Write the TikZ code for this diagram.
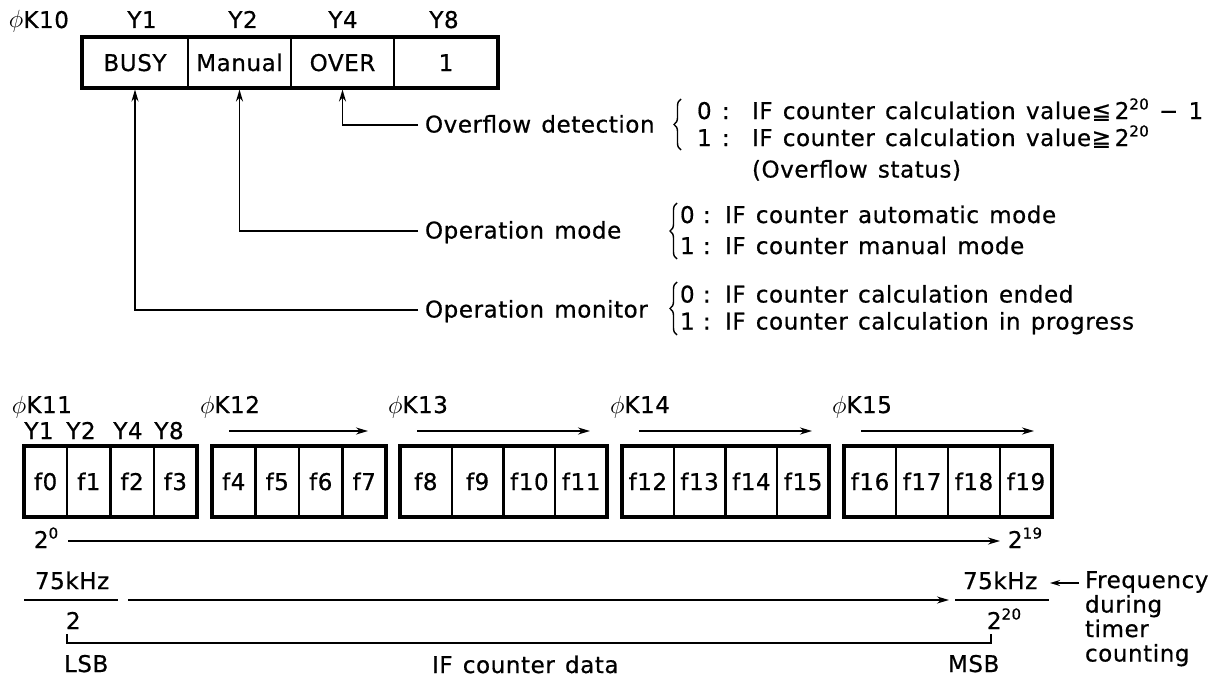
\documentclass[tikz,border=0pt]{standalone}
\usepackage{fontspec}
\setmainfont{DejaVu Sans}[LetterSpace=2.5,WordSpace=1.3,FakeBold=0.6]
\usetikzlibrary{arrows.meta,decorations.pathreplacing}
\newcommand\supx[1]{\raisebox{9.5pt}{\fontsize{15}{15}\selectfont #1}}
\newcommand\phik{{\fontsize{28}{28}\selectfont$\phi$}}
\begin{document}
\begin{tikzpicture}[x=1pt,y=-1pt,
  font=\fontsize{23}{26}\selectfont,
  every node/.style={inner sep=0pt,outer sep=0pt},
  txt/.style={anchor=base west},
  ctr/.style={anchor=base},
  cell/.style={draw,line width=2.4pt,minimum height=51pt,text height=17pt,text depth=0pt},
  bcell/.style={draw,line width=2.4pt,minimum height=71pt,text height=17pt,text depth=0pt},
  frame/.style={draw,line width=3.6pt},
  conn/.style={line width=1.9pt},
  arr/.style={conn,-{Stealth[length=12pt,width=7pt]}},
  thinl/.style={line width=1.6pt},
  brc/.style={line width=1.4pt,decorate,decoration={brace,amplitude=7pt}}
]
\fill[white] (0,0) rectangle (1221,677);
\useasboundingbox (0,0) rectangle (1221,677);

% ---------- top register ----------
\node[txt] (k10) at (9,28) {\phik K10};
\node[ctr] (ty1) at (142,28) {Y1};
\node[ctr] (ty2) at (243,28) {Y2};
\node[ctr] (ty4) at (343,28) {Y4};
\node[ctr] (ty8) at (444,28) {Y8};
\node[cell,minimum width=106pt] (busy) at (135,62.5) {BUSY};
\node[cell,minimum width=103pt] (manual) at (239.5,62.5) {Manual};
\node[cell,minimum width=103pt] (over) at (342.5,62.5) {OVER};
\node[cell,minimum width=104pt] (one) at (446,62.5) {1};
\draw[frame] (busy.north west) rectangle (one.south east);

% connectors
\coordinate (ovend) at (418,125);
\coordinate (moend) at (418,231);
\coordinate (mnend) at (418,310);
\draw[arr,shorten >=1.5pt] (ovend) -| (over.south);
\draw[arr,shorten >=1.5pt] (moend) -| (manual.south);
\draw[arr,shorten >=1.5pt] (mnend) -| (busy.south);

% overflow detection
\node[txt] (ovl) at (425,132.5) {Overflow detection};
\draw[brc] (681,150) -- (681,99);
\node[txt] (ov0n) at (697,119) {0};
\node[txt] (ov0c) at (722,119) {:};
\node[txt] (ov0t) at (752,119) {IF counter calculation value≦\,2\supx{20} − 1};
\node[txt] (ov1n) at (697,146) {1};
\node[txt] (ov1c) at (722,146) {:};
\node[txt] (ov1t) at (752,146) {IF counter calculation value≧\,2\supx{20}};
\node[txt] (ovst) at (752,177.5) {(Overflow status)};

% operation mode
\node[txt] (mol) at (425,238.5) {Operation mode};
\draw[brc] (677,259) -- (677,203);
\node[txt] (mo0n) at (680,223) {0};
\node[txt] (mo0c) at (703,223) {:};
\node[txt] (mo0t) at (725,223) {IF counter automatic mode};
\node[txt] (mo1n) at (680,254) {1};
\node[txt] (mo1c) at (703,254) {:};
\node[txt] (mo1t) at (725,254) {IF counter manual mode};

% operation monitor
\node[txt] (mnl) at (425,317.5) {Operation monitor};
\draw[brc] (677,335) -- (677,282);
\node[txt] (mn0n) at (680,302.5) {0};
\node[txt] (mn0c) at (703,302.5) {:};
\node[txt] (mn0t) at (725,302.5) {IF counter calculation ended};
\node[txt] (mn1n) at (680,329.5) {1};
\node[txt] (mn1c) at (703,329.5) {:};
\node[txt] (mn1t) at (725,329.5) {IF counter calculation in progress};

% ---------- bottom registers ----------
\node[txt] (k11) at (12,413) {\phik K11};
\node[txt] (k12) at (200,413) {\phik K12};
\node[txt] (k13) at (388,413) {\phik K13};
\node[txt] (k14) at (610,413) {\phik K14};
\node[txt] (k15) at (832,413) {\phik K15};
\node[ctr] (by1) at (39,439) {Y1};
\node[ctr] (by2) at (81,439) {Y2};
\node[ctr] (by4) at (128,439) {Y4};
\node[ctr] (by8) at (169,439) {Y8};

\coordinate (a12s) at (229,431); \coordinate (a12e) at (368,431);
\coordinate (a13s) at (417,431); \coordinate (a13e) at (590,431);
\coordinate (a14s) at (639,431); \coordinate (a14e) at (812,431);
\coordinate (a15s) at (861,431); \coordinate (a15e) at (1034,431);
\draw[arr] (a12s) -- (a12e);
\draw[arr] (a13s) -- (a13e);
\draw[arr] (a14s) -- (a14e);
\draw[arr] (a15s) -- (a15e);

\foreach \i/\cx/\w in {0/45.625/43.25,1/88.875/43.25,2/132.125/43.25,3/175.375/43.25,
  4/233.75/43.5,5/277.25/43.5,6/320.75/43.5,7/364.25/43.5,
  8/425.875/51.75,9/477.625/51.75,10/529.375/51.75,11/581.125/51.75,
  12/647.875/51.75,13/699.625/51.75,14/751.375/51.75,15/803.125/51.75,
  16/870/52,17/922/52,18/974/52,19/1026/52}
  \node[bcell,minimum width=\w pt] (f\i) at (\cx,481.5) {f\i};
\draw[frame] (f0.north west) rectangle (f3.south east);
\draw[frame] (f4.north west) rectangle (f7.south east);
\draw[frame] (f8.north west) rectangle (f11.south east);
\draw[frame] (f12.north west) rectangle (f15.south east);
\draw[frame] (f16.north west) rectangle (f19.south east);

% weight line
\node[txt] (p0) at (34,548) {2\supx{0}};
\node[txt] (p19) at (1008,548) {2\supx{19}};
\coordinate (w0) at (68,541); \coordinate (w19) at (1000,541);
\draw[arr] (w0) -- (w19);

% frequency fractions
\coordinate (fl1) at (24,600); \coordinate (fl2) at (118,600);
\draw[thinl] (fl1) -- (fl2);
\node[txt] (khzl) at (35,589) {75kHz};
\node[txt] (twol) at (66,629) {2};
\coordinate (fr1) at (955,600); \coordinate (fr2) at (1049,600);
\draw[thinl] (fr1) -- (fr2);
\node[txt] (khzr) at (963,589) {75kHz};
\node[txt] (twor) at (987,629) {2\supx{20}};
\coordinate (la1) at (128,600); \coordinate (la2) at (949,600);
\draw[arr,line width=1.6pt] (la1) -- (la2);

\coordinate (sa1) at (1079,583); \coordinate (sa2) at (1050,583);
\draw[line width=1.6pt,-{Stealth[length=10pt,width=6pt]}] (sa1) -- (sa2);
\node[txt] (fq1) at (1085,588) {Frequency};
\node[txt] (fq2) at (1085,612.5) {during};
\node[txt] (fq3) at (1085,637) {timer};
\node[txt] (fq4) at (1085,661.5) {counting};

% data bracket
\coordinate (lsbt) at (67,634); \coordinate (msbt) at (991,634);
\draw[line width=2.4pt] (lsbt) -- ++(0,9) -| (msbt);
\node[txt] (lsb) at (64,672) {LSB};
\node[txt] (msb) at (948,672) {MSB};
\node[txt] (ifd) at (432,673) {IF counter data};
\end{tikzpicture}
\end{document}
